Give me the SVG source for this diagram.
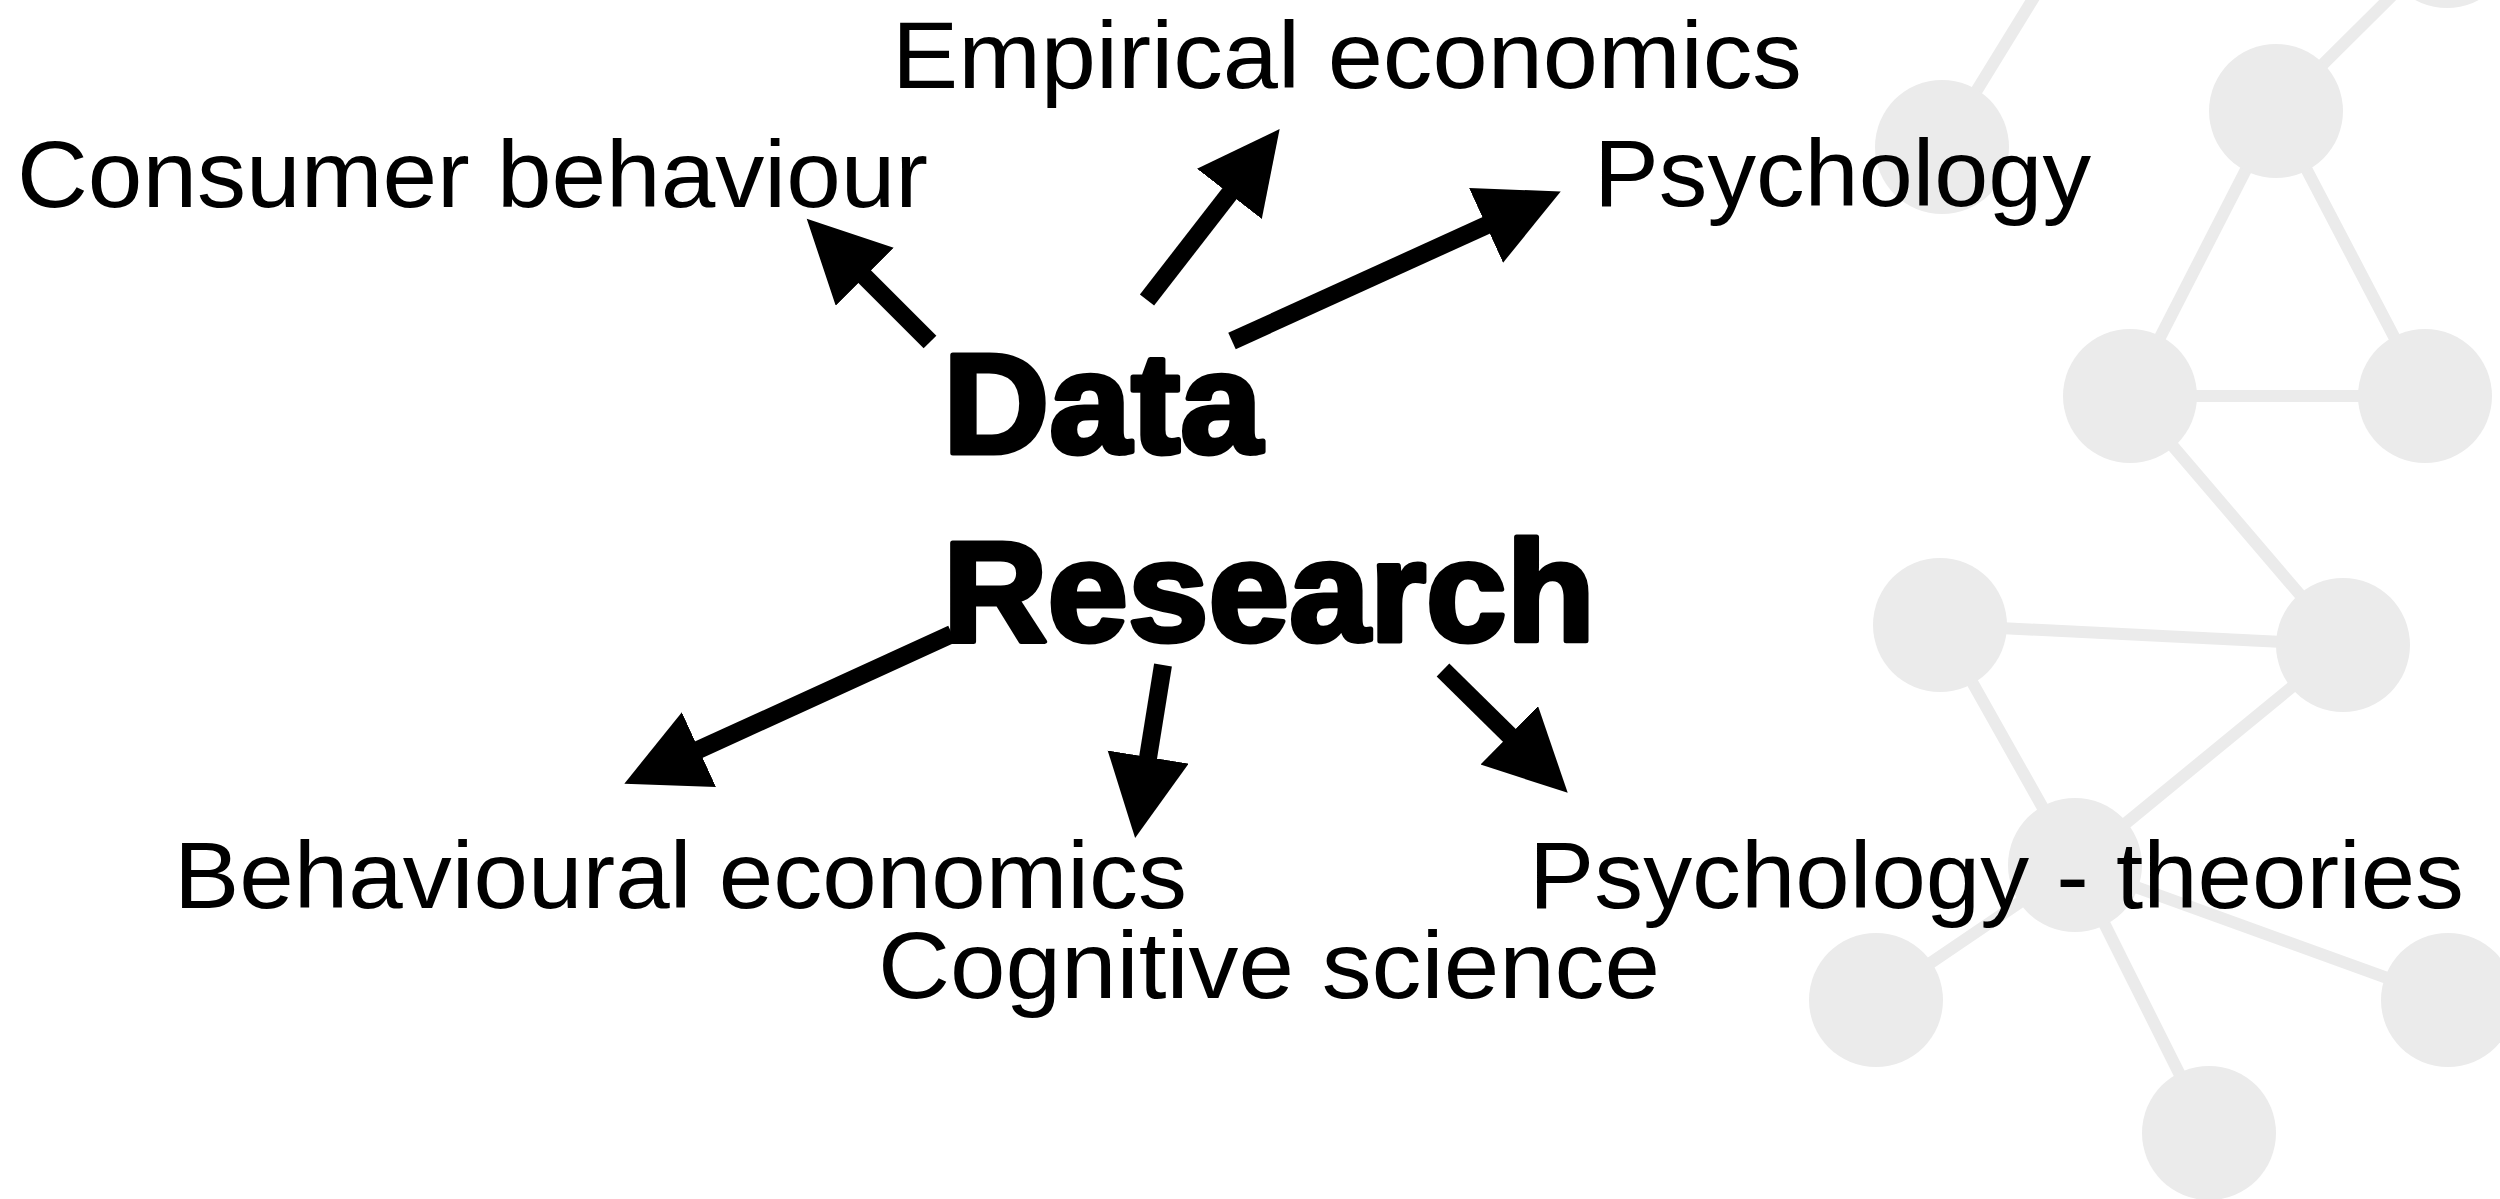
<svg xmlns="http://www.w3.org/2000/svg" width="2500" height="1199" viewBox="0 0 2500 1199">
  <style>
    .bg-edge { stroke: #ebebeb; stroke-width: 12; fill: none; }
    .bg-node { fill: #ebebeb; }
    .label { font-family: "Liberation Sans", Arial, sans-serif; font-size: 94px; fill: #000; }
    .title { font-family: "Liberation Sans", Arial, sans-serif; font-size: 142px; font-weight: bold; fill: #000; stroke: #000; stroke-width: 5; stroke-linejoin: round; }
    .arrow { stroke: #000; stroke-width: 18; fill: none; marker-end: url(#head); }
  </style>
  <defs>
    <marker id="head" markerUnits="userSpaceOnUse" markerWidth="84" markerHeight="84" viewBox="0 0 84 84" refX="1" refY="41" orient="auto">
      <path d="M0,0 L82,41 L0,82 Z" fill="#000"/>
    </marker>
  </defs>

  <rect width="2500" height="1199" fill="#fff"/>

  <!-- decorative molecule network -->
  <g id="network">
    <line class="bg-edge" x1="1942" y1="147" x2="2060" y2="-45"/>
    <line class="bg-edge" x1="2276" y1="111" x2="2447" y2="-59"/>
    <line class="bg-edge" x1="2276" y1="111" x2="2130" y2="396"/>
    <line class="bg-edge" x1="2276" y1="111" x2="2425" y2="396"/>
    <line class="bg-edge" x1="2130" y1="396" x2="2425" y2="396"/>
    <line class="bg-edge" x1="2130" y1="396" x2="2343" y2="645"/>
    <line class="bg-edge" x1="1940" y1="625" x2="2343" y2="645"/>
    <line class="bg-edge" x1="1940" y1="625" x2="2075" y2="865"/>
    <line class="bg-edge" x1="2343" y1="645" x2="2075" y2="865"/>
    <line class="bg-edge" x1="2075" y1="865" x2="1876" y2="1000"/>
    <line class="bg-edge" x1="2075" y1="865" x2="2448" y2="1000"/>
    <line class="bg-edge" x1="2075" y1="865" x2="2209" y2="1133"/>
    <circle class="bg-node" cx="1942" cy="147" r="67"/>
    <circle class="bg-node" cx="2276" cy="111" r="67"/>
    <circle class="bg-node" cx="2447" cy="-59" r="67"/>
    <circle class="bg-node" cx="2130" cy="396" r="67"/>
    <circle class="bg-node" cx="2425" cy="396" r="67"/>
    <circle class="bg-node" cx="1940" cy="625" r="67"/>
    <circle class="bg-node" cx="2343" cy="645" r="67"/>
    <circle class="bg-node" cx="2075" cy="865" r="67"/>
    <circle class="bg-node" cx="1876" cy="1000" r="67"/>
    <circle class="bg-node" cx="2448" cy="1000" r="67"/>
    <circle class="bg-node" cx="2209" cy="1133" r="67"/>
  </g>

  <!-- central node -->
  <g id="data-research">
    <text class="title" x="943" y="453" textLength="319" lengthAdjust="spacingAndGlyphs">Data</text>
    <text class="title" x="943" y="641" textLength="652" lengthAdjust="spacingAndGlyphs">Research</text>
  </g>

  <!-- outer topics -->
  <g id="consumer-behaviour">
    <text class="label" x="17" y="207" textLength="911" lengthAdjust="spacingAndGlyphs">Consumer behaviour</text>
  </g>
  <g id="empirical-economics">
    <text class="label" x="892" y="88" textLength="910" lengthAdjust="spacingAndGlyphs">Empirical economics</text>
  </g>
  <g id="psychology">
    <text class="label" x="1594" y="206" textLength="497" lengthAdjust="spacingAndGlyphs">Psychology</text>
  </g>
  <g id="behavioural-economics">
    <text class="label" x="174" y="908" textLength="1013" lengthAdjust="spacingAndGlyphs">Behavioural economics</text>
  </g>
  <g id="cognitive-science">
    <text class="label" x="878" y="998" textLength="782" lengthAdjust="spacingAndGlyphs">Cognitive science</text>
  </g>
  <g id="psychology-theories">
    <text class="label" x="1529" y="908" textLength="935" lengthAdjust="spacingAndGlyphs">Psychology - theories</text>
  </g>

  <!-- connectors -->
  <g id="connectors">
    <line class="arrow" x1="930" y1="342" x2="864" y2="276"/>
    <line class="arrow" x1="1147" y1="300" x2="1230" y2="193"/>
    <line class="arrow" x1="1232" y1="341" x2="1487" y2="225"/>
    <line class="arrow" x1="952" y1="634" x2="698" y2="750"/>
    <line class="arrow" x1="1163" y1="665" x2="1148" y2="758"/>
    <line class="arrow" x1="1443" y1="670" x2="1510" y2="736"/>
  </g>
</svg>
